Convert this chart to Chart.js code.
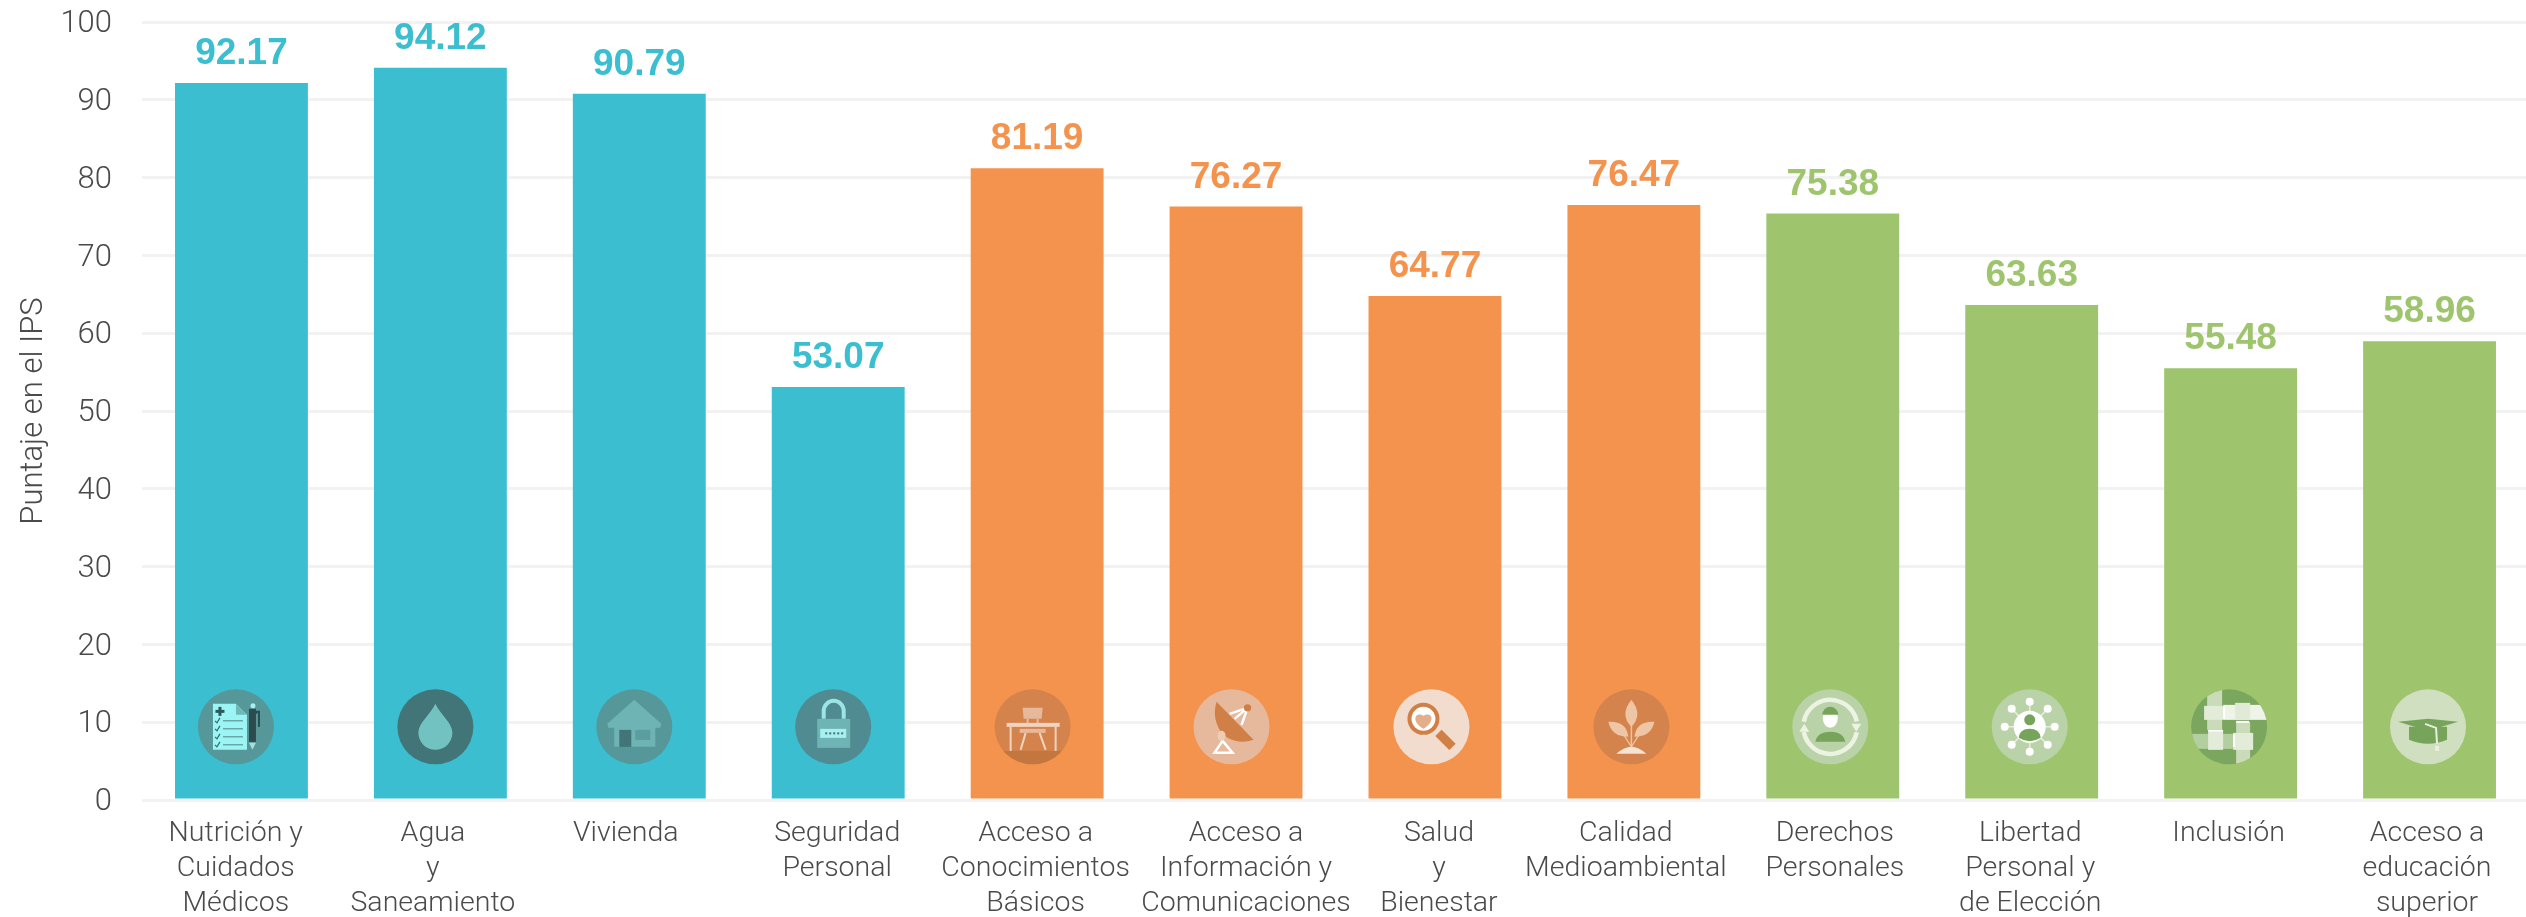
<!DOCTYPE html>
<html><head><meta charset="utf-8">
<style>html,body{margin:0;padding:0;background:#fff;overflow:hidden;width:2526px;height:917px}
#w{position:absolute;left:0;top:0;width:2529px;height:917px}</style>
<script src="https://cdn.jsdelivr.net/npm/chart.js@4"></script></head>
<body><div id="w"><canvas id="c"></canvas></div>
<script>
const categories=[["Nutrición y","Cuidados","Médicos"],["Agua","y","Saneamiento"],["Vivienda"],["Seguridad","Personal"],["Acceso a","Conocimientos","Básicos"],["Acceso a","Información y","Comunicaciones"],["Salud","y","Bienestar"],["Calidad","Medioambiental"],["Derechos","Personales"],["Libertad","Personal y","de Elección"],["Inclusión"],["Acceso a","educación","superior"]];
const values=[92.17,94.12,90.79,53.07,81.19,76.27,64.77,76.47,75.38,63.63,55.48,58.96];
const labelsShown=["92.17","94.12","90.79","53.07","81.19","76.27","64.77","76.47","75.38","63.63","55.48","58.96"];
const groupColors=["#3bbecf","#3bbecf","#3bbecf","#3bbecf","#f4934d","#f4934d","#f4934d","#f4934d","#9ec56e","#9ec56e","#9ec56e","#9ec56e"];
const yTicks=[0,10,20,30,40,50,60,70,80,90,100];
const iconNames=["clip","drop","house","lock","desk","dish","lens","plant","person","net","hands","cap"];
const iconFill=["#56979a","#427577","#56979a","#4f8b90","#d4834c","#e6b89c","#f1dccd","#d4834c","#bad2a8","#bad2a8","#7ba65e","#cfdfbf"];
const iconShift=[-5.5,-5,-5,-5,-4.5,-4.5,-3.5,-2.5,-2.5,-2,-1.5,-1.5];
const tickShift=[-5.7,-7.5,-13.5,-1,-1.5,10,4,-8,2,-1.5,-2,-2.5];

function ell(c,x,y,rx,ry,col){c.fillStyle=col;c.beginPath();c.ellipse(x,y,rx,ry,0,0,7);c.fill();}
function poly(c,col,p){c.fillStyle=col;c.beginPath();p.forEach((q,i)=>i?c.lineTo(q[0],q[1]):c.moveTo(q[0],q[1]));c.closePath();c.fill();}
function rect(c,col,x,y,w,h){c.fillStyle=col;c.fillRect(x,y,w,h);}
function line(c,col,w,p){c.strokeStyle=col;c.lineWidth=w;c.beginPath();p.forEach((q,i)=>i?c.lineTo(q[0],q[1]):c.moveTo(q[0],q[1]));c.stroke();}
const glyphs={
clip(c){poly(c,"#9cf5f5",[[-23,-23],[0,-23],[11,-12],[11,23],[-23,23]]);poly(c,"#6fb8b8",[[0,-23],[11,-12],[0,-12]]);
 rect(c,"#2f5a5c",-20.5,-17,9,3);rect(c,"#2f5a5c",-17.5,-20,3,9);
 [-6,2,10,18].forEach(y=>{line(c,"#6aa8a8",1.5,[[-13,y],[7,y]]);line(c,"#3a6a6c",1.2,[[-21,y],[-19,y+2],[-16,y-3]]);});
 rect(c,"#2b4c4e",13,-18,7,33);rect(c,"#2b4c4e",20,-16,1,3);rect(c,"#2b4c4e",22,-16,2,16);rect(c,"#2b4c4e",20,-16,4,2);ell(c,17,-21,2.5,2.5,"#a9efef");poly(c,"#a9dcdc",[[13,16],[20,16],[16.5,23]]);},
drop(c){c.fillStyle="#72c2c2";c.beginPath();c.moveTo(0,-23);c.bezierCurveTo(5,-12,17,-4,17,6);c.arc(0,6,17,0,Math.PI);c.bezierCurveTo(-17,-4,-5,-12,0,-23);c.fill();},
house(c){poly(c,"#6fb4b4",[[0,-27],[27,-3],[26,1],[21,1],[21,20],[-20,20],[-20,1],[-26,1],[-27,-3]]);rect(c,"#427577",-15,3,12,17);rect(c,"#5c9d9f",1,3,15,10);},
lock(c){c.strokeStyle="#9de5e5";c.lineWidth=4;c.beginPath();c.moveTo(-9.5,-8);c.lineTo(-9.5,-16);c.arc(0.5,-16,10,Math.PI,0);c.lineTo(10.5,-8);c.stroke();
 rect(c,"#6fb4b4",-16,-8,33,29);rect(c,"#a9efef",-13,2,26,9);[-8,-4,0,4,8].forEach(x=>rect(c,"#427577",x,5.5,2,2));},
desk(c){rect(c,"#c4763f",-38,24,76,14);
 poly(c,"#e6b89c",[[-10,-19],[10,-19],[9,-8],[-9,-8]]);rect(c,"#e6b89c",-6,-8,2,6);rect(c,"#e6b89c",4,-8,2,6);
 rect(c,"#f0d4bf",-26,-4,53,4);rect(c,"#f0d4bf",-23,0,2,24);rect(c,"#f0d4bf",22,0,2,24);
 rect(c,"#e6b89c",-13,2,26,4);line(c,"#f0d4bf",2,[[-7,6],[-12,23]]);line(c,"#f0d4bf",2,[[7,6],[13,23]]);},
dish(c){line(c,"#fff",2.5,[[-2,-13],[16,-19]]);line(c,"#fff",2.5,[[3,-8],[16,-19]]);line(c,"#fff",2.5,[[10,-2],[16,-19]]);
 ell(c,16,-19,3.7,3.7,"#d07f46");
 c.fillStyle="#d07f46";c.beginPath();c.moveTo(-15,-25);c.lineTo(22,13);c.bezierCurveTo(8,18,-6,13,-12,3);c.bezierCurveTo(-17,-6,-18,-15,-15,-25);c.fill();
 ell(c,-10,9,4,5,"#eccdb6");c.lineJoin="miter";line(c,"#fff",2.5,[[-9,14],[-17,26],[1,26],[-9,14]]);},
lens(c){line(c,"#d07f46",9,[[7,6],[21,20]]);ell(c,-8,-8,16,16,"#d07f46");ell(c,-8,-8,12,12,"#fff");
 c.fillStyle="#e3ae8a";c.beginPath();c.moveTo(-8,2);c.bezierCurveTo(-22,-7,-15,-16,-8,-11);c.bezierCurveTo(-1,-16,6,-7,-8,2);c.fill();},
plant(c){const a="#eec5a5";line(c,a,1.5,[[0,-2],[0,22]]);line(c,a,1.2,[[-10,4],[0,20]]);line(c,a,1.2,[[10,4],[0,20]]);
 c.fillStyle=a;c.beginPath();c.moveTo(0,-27);c.quadraticCurveTo(12,-12,0,0);c.quadraticCurveTo(-12,-12,0,-27);c.fill();
 c.beginPath();c.moveTo(-23,-5);c.quadraticCurveTo(-5,-6,-3,10);c.quadraticCurveTo(-20,10,-23,-5);c.fill();
 c.beginPath();c.moveTo(23,-5);c.quadraticCurveTo(5,-6,3,10);c.quadraticCurveTo(20,10,23,-5);c.fill();
 c.fillStyle="#f5e3d4";c.beginPath();c.moveTo(-15,27);c.quadraticCurveTo(-7,20,0,20);c.quadraticCurveTo(7,20,15,27);c.closePath();c.fill();},
person(c){c.strokeStyle="#ecf3e3";c.lineWidth=4.5;c.beginPath();c.arc(0,0,27,-2.95,-0.2);c.stroke();c.beginPath();c.arc(0,0,27,0.2,2.95);c.stroke();
 poly(c,"#ecf3e3",[[21,-3],[31,-3],[26,5]]);poly(c,"#ecf3e3",[[-31,5],[-21,5],[-26,-3]]);
 ell(c,0,-9,7.5,10,"#fff");c.fillStyle="#76a45a";c.beginPath();c.arc(0,-12,8,Math.PI,0);c.fill();
 c.beginPath();c.moveTo(-15,15);c.quadraticCurveTo(-13,5,0,5);c.quadraticCurveTo(13,5,15,15);c.closePath();c.fill();},
net(c){[[0,-25],[18,-18],[25,0],[18,18],[0,25],[-18,18],[-25,0],[-18,-18]].forEach(p=>{line(c,"#e6efdc",1.5,[[0,0],p]);ell(c,p[0],p[1],4,4,"#fff");});
 ell(c,0,0,16,16,"#fff");ell(c,0,-7,5.5,5.5,"#76a45a");c.fillStyle="#76a45a";c.beginPath();c.moveTo(-11,11);c.quadraticCurveTo(-10,2,0,2);c.quadraticCurveTo(10,2,11,11);c.quadraticCurveTo(0,18,-11,11);c.fill();},
hands(c){rect(c,"#c9dbb9",-22,-37,15,40);rect(c,"#eef4e7",-6,-22,44,15);rect(c,"#c9dbb9",7,-5,14,42);rect(c,"#b4cf9f",-37,7,41,15);
 rect(c,"#e2ecd8",-25,-21,19,14);rect(c,"#e0ead6",6,-24,15,17);rect(c,"#e2ecd8",4,6,20,17);rect(c,"#e2ecd8",-21,5,15,18);
 rect(c,"#fff",-6,-21,2,13);rect(c,"#fff",7,-6,13,2);rect(c,"#fff",-21,3,15,2);rect(c,"#fff",4,7,2,13);},
cap(c){c.fillStyle="#76a45a";c.beginPath();c.moveTo(-19,0);c.lineTo(19,0);c.lineTo(19,13);c.quadraticCurveTo(0,21,-19,13);c.closePath();c.fill();
 poly(c,"#76a45a",[[-30,-5],[0,-8],[30,-5],[0,4]]);line(c,"#e7f0dd",2,[[-3,-3],[8,1],[9,17]]);rect(c,"#e7f0dd",7,19,4,5);}
};

const tickPlugin={id:"tickShift",beforeDraw(ch){
 ch.scales.x.getLabelItems(ch.chartArea).forEach((it,i)=>{if(!it._moved){it.options.translation[0]+=tickShift[i];it._moved=true;}});
 ch.scales.y.getLabelItems(ch.chartArea).forEach(it=>{if(!it._moved){it.options.translation[1]+=2.5;it._moved=true;}});
}};
const iconPlugin={id:"icons",afterDatasetsDraw(ch){
 const c=ch.ctx,m=ch.getDatasetMeta(0),y=ch.scales.y;
 values.forEach((v,i)=>{const px=m.data[i].x+iconShift[i],py=y.getPixelForValue(9.4);
  c.save();c.beginPath();c.ellipse(px,py,38,37.5,0,0,7);c.clip();
  c.fillStyle=iconFill[i];c.fillRect(px-40,py-40,80,80);
  c.translate(px,py);glyphs[iconNames[i]](c);c.restore();});
}};
const labelPlugin={id:"vals",afterDatasetsDraw(ch){
 const c=ch.ctx,m=ch.getDatasetMeta(0);c.save();c.font="bold 37px 'Liberation Sans'";c.textAlign="center";c.textBaseline="alphabetic";
 values.forEach((v,i)=>{c.fillStyle=groupColors[i];c.fillText(labelsShown[i],m.data[i].x,m.data[i].y-19);});c.restore();
}};
Chart.defaults.font.family="'Liberation Sans'";
new Chart(document.getElementById("c"),{type:"bar",
 data:{labels:categories,datasets:[{data:values,backgroundColor:groupColors,barPercentage:1,categoryPercentage:0.668}]},
 plugins:[tickPlugin,iconPlugin,labelPlugin],
 options:{responsive:true,maintainAspectRatio:false,animation:false,
  layout:{padding:{top:22,left:0,right:0,bottom:0}},
  plugins:{legend:{display:false},tooltip:{enabled:false}},
  scales:{
   x:{grid:{display:false},border:{display:false},
      afterFit(s){s.height=117;},
      ticks:{color:"#4a4a4a",font:{family:"Roboto",weight:"300",size:28.5,lineHeight:1.22},maxRotation:0,minRotation:0,autoSkip:false,padding:8.5}},
   y:{min:0,max:100,afterFit(s){s.width=142;s.paddingTop=0;s.paddingBottom=0;},afterBuildTicks(s){s.ticks=yTicks.map(v=>({value:v}));},
      grid:{color:"#f2f2f2",lineWidth:3,drawTicks:false},border:{display:false},
      ticks:{color:"#4a4a4a",font:{family:"Roboto",weight:"300",size:31},padding:30},
      title:{display:true,text:"Puntaje en el IPS",color:"#4a4a4a",font:{family:"Roboto",weight:"300",size:31},padding:{top:16,bottom:2}}}
  }}});
</script></body></html>
